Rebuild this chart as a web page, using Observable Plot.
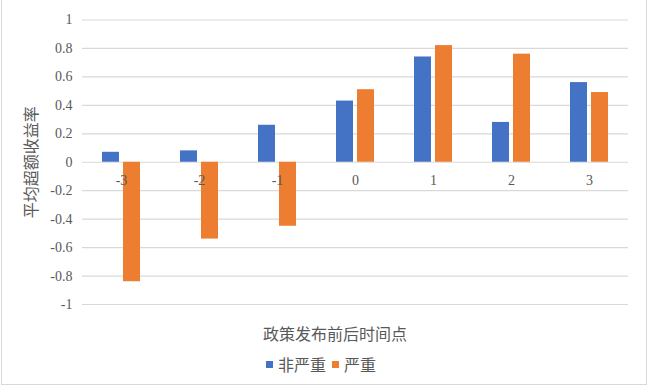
<!DOCTYPE html>
<html>
<head>
<meta charset="utf-8">
<script src="https://cdn.jsdelivr.net/npm/d3@7"></script>
<script src="https://cdn.jsdelivr.net/npm/@observablehq/plot@0.6"></script>
<style>
  html, body { margin: 0; padding: 0; background: #fff; }
  #wrap { position: relative; width: 650px; height: 388px; overflow: hidden; }
  #frame { position: absolute; left: 1px; top: -2px; width: 646px; height: 387px; border: 1px solid #d9d9d9; box-sizing: border-box; }
  #xtitle { position: absolute; left: 0; width: 670px; top: 321px; text-align: center; font: 16px "Noto Sans CJK SC", sans-serif; color: #595959; }
  #legend { position: absolute; left: 266px; top: 352px; font: 16px "Noto Sans CJK SC", sans-serif; color: #595959; display: flex; align-items: center; white-space: nowrap; }
  #legend .sw { display: inline-block; width: 7px; height: 7px; margin-right: 5px; }
  #legend .item { display: flex; align-items: center; margin-right: 6px; }
  #chart svg { font-family: "Liberation Serif", serif; }
  #chart svg g[aria-label="y-axis tick label"] text,
  #chart svg .num text { font-family: "Liberation Serif", serif !important; font-size: 14px !important; }
</style>
</head>
<body>
<div id="wrap">
  <div id="chart"></div>
  <div id="frame"></div>
  <div id="xtitle"></div>
  <div id="legend"></div>
</div>
<script>
const categories = ["-3", "-2", "-1", "0", "1", "2", "3"];
const seriesNames = ["非严重", "严重"];
const nonSevere = [0.07, 0.08, 0.26, 0.43, 0.74, 0.28, 0.56];
const severe = [-0.84, -0.54, -0.45, 0.51, 0.82, 0.76, 0.49];
const yTicks = [-1, -0.8, -0.6, -0.4, -0.2, 0, 0.2, 0.4, 0.6, 0.8, 1];
const colors = ["#4472C4", "#ED7D31"];
const yTitle = "平均超额收益率";
const xTitle = "政策发布前后时间点";

const data = categories.flatMap((c, i) => [
  {cat: c, series: seriesNames[0], value: nonSevere[i]},
  {cat: c, series: seriesNames[1], value: severe[i]}
]);

const chart = Plot.plot({
  width: 650,
  height: 388,
  marginLeft: 81,
  marginRight: 21,
  marginTop: 19.5,
  marginBottom: 84,
  style: {background: "transparent", color: "#595959"},
  fx: {domain: categories, padding: 0, axis: null, label: null},
  x: {domain: seriesNames, paddingInner: 0.205, paddingOuter: 0.884, axis: null},
  y: {domain: [-1, 1]},
  color: {domain: seriesNames, range: colors},
  marks: [
    Plot.gridY(yTicks, {stroke: "#d9d9d9", strokeOpacity: 1, strokeWidth: 1.2}),
    Plot.axisY(yTicks, {
      tickSize: 0,
      tickPadding: 10,
      tickFormat: d => String(Math.round(d * 10) / 10),
      fontSize: 14,
      fill: "#595959",
      label: yTitle,
      labelAnchor: "center",
      labelArrow: "none",
      labelOffset: 57
    }),
    Plot.barY(data, {fx: "cat", x: "series", y: "value", fill: "series"}),
    Plot.text(categories, {
      fx: d => d,
      y: () => 0,
      text: d => d,
      dy: 18,
      fontSize: 14,
      className: "num",
      fill: "#595959"
    })
  ]
});

// y-axis title font (CJK sans)
chart.querySelectorAll("g[aria-label='y-axis label'] text").forEach(t => {
  t.style.fontFamily = "'Noto Sans CJK SC', sans-serif";
  t.style.fontSize = "16px";
});

document.getElementById("chart").appendChild(chart);
document.getElementById("xtitle").textContent = xTitle;

const legend = document.getElementById("legend");
seriesNames.forEach((s, i) => {
  const item = document.createElement("span");
  item.className = "item";
  const sw = document.createElement("span");
  sw.className = "sw";
  sw.style.background = colors[i];
  item.appendChild(sw);
  item.appendChild(document.createTextNode(s));
  legend.appendChild(item);
});
</script>
</body>
</html>
